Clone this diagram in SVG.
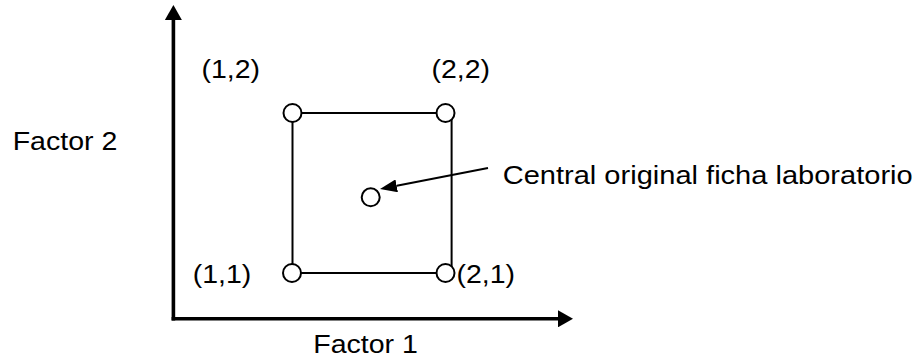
<svg xmlns="http://www.w3.org/2000/svg" width="918" height="357" viewBox="0 0 918 357">
  <style>
    .t { font-family: "Liberation Sans", Arial, sans-serif; font-size: 25px; fill: #000; }
    .edge { stroke: #000; stroke-width: 2; fill: none; }
    .axis { stroke: #000; stroke-width: 3.6; fill: none; }
    .pt { fill: #fff; stroke: #000; stroke-width: 2; }
  </style>
  <defs>
    <marker id="axhead" viewBox="0 0 15 17" markerWidth="15" markerHeight="17" refX="0" refY="8.5" orient="auto" markerUnits="userSpaceOnUse">
      <path d="M0,0 L15,8.5 L0,17 z" fill="#000"/>
    </marker>
    <marker id="head" viewBox="0 0 17 13" markerWidth="17" markerHeight="13" refX="0" refY="6.5" orient="auto" markerUnits="userSpaceOnUse">
      <path d="M0,0 L17,6.5 L0,13 z" fill="#000"/>
    </marker>
  </defs>
  <rect width="918" height="357" fill="#fff"/>
  <g id="connectors">
    <path id="y-axis" class="axis" d="M173.4,320.6 V20" marker-end="url(#axhead)"/>
    <path id="x-axis" class="axis" d="M171.6,318.8 H558" marker-end="url(#axhead)"/>
    <path id="sq-top" class="edge" d="M292.5,113 H445.5"/>
    <path id="sq-left" class="edge" d="M292.5,113 V273"/>
    <path id="sq-bottom" class="edge" d="M292.5,273 H445.5"/>
    <path id="sq-right" class="edge" d="M451.6,113 V273"/>
    <path id="pointer" class="edge" d="M488,168 L396.7,185.8" marker-end="url(#head)"/>
  </g>
  <g id="node-12"><circle class="pt" cx="292.5" cy="113" r="9"/><text class="t" x="201.5" y="78" textLength="58.5" lengthAdjust="spacingAndGlyphs">(1,2)</text></g>
  <g id="node-22"><circle class="pt" cx="445.5" cy="113" r="9"/><text class="t" x="431.5" y="78" textLength="58.5" lengthAdjust="spacingAndGlyphs">(2,2)</text></g>
  <g id="node-11"><circle class="pt" cx="292" cy="273" r="9"/><text class="t" x="192.7" y="283" textLength="58.5" lengthAdjust="spacingAndGlyphs">(1,1)</text></g>
  <g id="node-21"><circle class="pt" cx="445.5" cy="273" r="9"/><text class="t" x="456.5" y="283" textLength="58.5" lengthAdjust="spacingAndGlyphs">(2,1)</text></g>
  <g id="node-center"><circle class="pt" cx="370.7" cy="197.3" r="9"/></g>
  <g id="label-central"><text class="t" x="502.7" y="184" textLength="410" lengthAdjust="spacingAndGlyphs">Central original ficha laboratorio</text></g>
  <g id="label-factor2"><text class="t" x="12.7" y="150" textLength="104.6" lengthAdjust="spacingAndGlyphs">Factor 2</text></g>
  <g id="label-factor1"><text class="t" x="313.3" y="352.5" textLength="104.6" lengthAdjust="spacingAndGlyphs">Factor 1</text></g>
</svg>
